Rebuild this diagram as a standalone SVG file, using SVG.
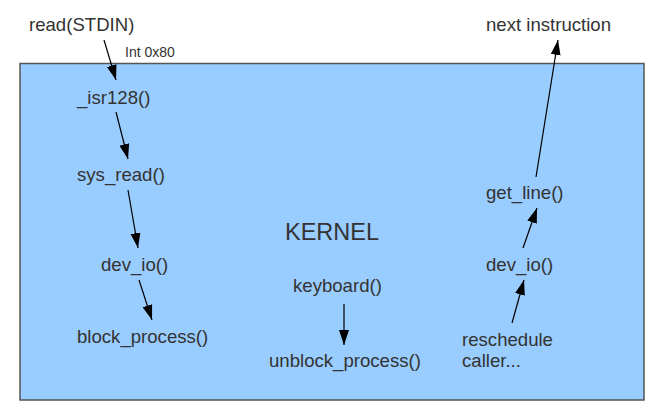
<svg xmlns="http://www.w3.org/2000/svg" width="666" height="418" viewBox="0 0 666 418">
<style>
text{font-family:"Liberation Sans",Arial,sans-serif;fill:#333;font-size:18.6px}
.small{font-size:14px}
.big{font-size:23.5px}
.c line{stroke:#000;stroke-width:1.2;marker-end:url(#ah)}
</style>
<defs>
<marker id="ah" markerUnits="userSpaceOnUse" markerWidth="16" markerHeight="11" refX="15" refY="5" orient="auto" viewBox="0 0 16 11">
<path d="M0,0 L15,5 L0,10 z" fill="#000"/>
</marker>
</defs>
<rect x="0" y="0" width="666" height="418" fill="#fff"/>
<g id="kernel">
<rect x="20" y="63.5" width="624" height="336.5" fill="#99ccff" stroke="#555" stroke-width="1.5"/>
<text class="big" x="285" y="240">KERNEL</text>
</g>
<g id="read"><text x="29" y="31">read(STDIN)</text></g>
<g id="int"><text class="small" x="125" y="57">Int 0x80</text></g>
<g id="isr"><text x="77" y="104">_isr128()</text></g>
<g id="sysread"><text x="77" y="181">sys_read()</text></g>
<g id="devio1"><text x="101" y="271">dev_io()</text></g>
<g id="block"><text x="77" y="343">block_process()</text></g>
<g id="keyboard"><text x="293" y="292">keyboard()</text></g>
<g id="unblock"><text x="269" y="367">unblock_process()</text></g>
<g id="next"><text x="486" y="31">next instruction</text></g>
<g id="getline"><text x="486" y="199">get_line()</text></g>
<g id="devio2"><text x="486" y="271">dev_io()</text></g>
<g id="resched"><text x="462" y="346">reschedule</text><text x="462" y="367">caller...</text></g>
<g class="c" id="connectors">
<line x1="104" y1="40" x2="116" y2="80"/>
<line x1="116" y1="112" x2="128" y2="159"/>
<line x1="128" y1="190" x2="138" y2="248"/>
<line x1="139" y1="280" x2="152" y2="320"/>
<line x1="344" y1="304" x2="344" y2="345"/>
<line x1="536" y1="177" x2="558" y2="40"/>
<line x1="523" y1="248" x2="537" y2="208"/>
<line x1="512" y1="323" x2="524" y2="280"/>
</g>
</svg>
